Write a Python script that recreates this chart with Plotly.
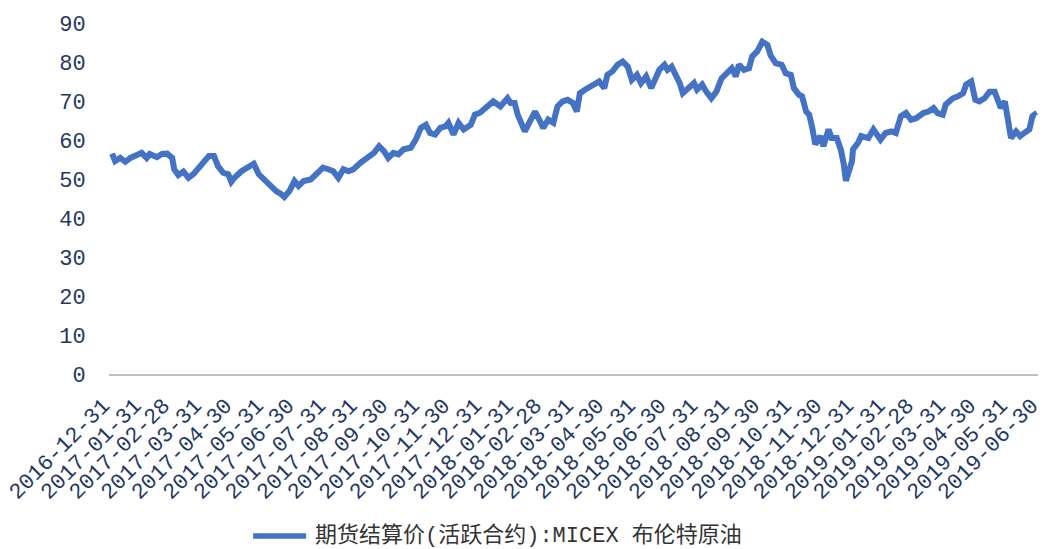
import plotly.graph_objects as go

# Brent crude (MICEX active contract) settlement prices
dates = [
    "2017-01-03", "2017-01-06", "2017-01-11", "2017-01-16", "2017-01-21", "2017-01-25",
    "2017-02-01", "2017-02-06", "2017-02-09", "2017-02-16", "2017-02-21", "2017-02-26",
    "2017-03-03", "2017-03-05", "2017-03-09", "2017-03-14", "2017-03-19", "2017-03-24", "2017-03-29",
    "2017-04-03", "2017-04-08", "2017-04-13", "2017-04-17", "2017-04-22", "2017-04-27", "2017-04-30",
    "2017-05-03", "2017-05-10", "2017-05-17", "2017-05-22", "2017-05-27",
    "2017-06-01", "2017-06-08", "2017-06-13", "2017-06-18", "2017-06-21", "2017-06-26",
    "2017-07-01", "2017-07-05", "2017-07-10", "2017-07-17", "2017-07-24", "2017-07-29",
    "2017-08-03", "2017-08-08", "2017-08-13", "2017-08-18", "2017-08-23", "2017-08-28",
    "2017-09-04", "2017-09-11", "2017-09-17", "2017-09-22", "2017-09-27",
    "2017-10-01", "2017-10-06", "2017-10-11", "2017-10-16", "2017-10-23", "2017-10-28",
    "2017-11-02", "2017-11-07", "2017-11-11", "2017-11-16", "2017-11-21", "2017-11-26", "2017-11-29",
    "2017-12-04", "2017-12-09", "2017-12-14", "2017-12-21", "2017-12-25", "2017-12-30",
    "2018-01-04", "2018-01-09", "2018-01-12", "2018-01-19", "2018-01-26", "2018-01-29",
    "2018-02-02", "2018-02-05", "2018-02-09", "2018-02-12", "2018-02-17", "2018-02-22", "2018-02-27",
    "2018-03-02", "2018-03-07", "2018-03-12", "2018-03-16", "2018-03-21", "2018-03-26", "2018-03-31",
    "2018-04-04", "2018-04-07", "2018-04-12", "2018-04-17", "2018-04-22", "2018-04-26",
    "2018-05-01", "2018-05-04", "2018-05-09", "2018-05-14", "2018-05-19", "2018-05-24", "2018-05-28",
    "2018-06-02", "2018-06-06", "2018-06-11", "2018-06-16", "2018-06-19", "2018-06-24", "2018-06-29",
    "2018-07-02", "2018-07-06", "2018-07-11", "2018-07-14", "2018-07-17", "2018-07-21", "2018-07-28", "2018-07-31",
    "2018-08-05", "2018-08-09", "2018-08-14", "2018-08-19", "2018-08-24", "2018-08-29",
    "2018-09-03", "2018-09-07", "2018-09-10", "2018-09-15", "2018-09-20", "2018-09-23", "2018-09-28",
    "2018-10-03", "2018-10-08", "2018-10-11", "2018-10-16", "2018-10-22", "2018-10-26", "2018-10-31",
    "2018-11-03", "2018-11-08", "2018-11-11", "2018-11-15", "2018-11-18", "2018-11-21", "2018-11-24", "2018-11-29",
    "2018-12-02", "2018-12-07", "2018-12-10", "2018-12-15", "2018-12-19", "2018-12-22", "2018-12-24",
    "2018-12-27", "2018-12-30", "2018-12-31",
    "2019-01-05", "2019-01-08", "2019-01-15", "2019-01-20", "2019-01-27",
    "2019-02-01", "2019-02-07", "2019-02-11", "2019-02-16", "2019-02-21", "2019-02-26",
    "2019-03-03", "2019-03-10", "2019-03-15", "2019-03-20", "2019-03-24", "2019-03-29",
    "2019-04-01", "2019-04-08", "2019-04-13", "2019-04-18", "2019-04-21", "2019-04-26", "2019-04-30",
    "2019-05-04", "2019-05-09", "2019-05-14", "2019-05-19", "2019-05-22", "2019-05-25", "2019-05-29",
    "2019-06-01", "2019-06-04", "2019-06-09", "2019-06-13", "2019-06-17", "2019-06-22", "2019-06-25",
    "2019-06-27", "2019-06-28",
]

prices = [
    56.5, 54.6, 55.4, 54.4, 55.4, 55.9,
    56.7, 55.4, 56.4, 55.6, 56.4, 56.5,
    55.4, 52.5, 51.0, 51.9, 50.3, 51.3, 52.9,
    54.6, 55.9, 55.9, 53.3, 51.6, 51.2, 49.3,
    50.3, 52.0, 53.3, 53.9, 51.2,
    49.9, 48.6, 46.9, 46.1, 45.4, 46.9,
    49.5, 48.2, 49.5, 49.9, 51.6, 52.9,
    52.5, 52.0, 50.3, 52.5, 52.0, 52.5,
    54.2, 55.4, 56.7, 58.4, 57.1,
    55.4, 56.7, 56.3, 57.6, 58.0, 60.1,
    63.1, 63.9, 61.8, 61.4, 63.1, 63.5, 64.4,
    61.4, 64.4, 62.7, 63.9, 66.5, 67.0,
    68.2, 69.1, 69.9, 68.6, 70.7, 69.5,
    69.5, 66.5, 63.9, 62.2, 64.8, 67.3, 64.8,
    63.1, 65.2, 64.4, 68.6, 69.9, 70.3, 69.5,
    67.3, 72.0, 72.9, 73.7, 74.6, 75.0,
    73.3, 76.7, 77.6, 79.3, 80.1, 78.8, 75.4,
    76.7, 74.6, 76.3, 73.3, 75.0, 78.0, 79.3,
    78.0, 78.8, 76.5, 74.6, 72.0, 72.9, 74.6, 72.9,
    74.2, 72.4, 70.7, 72.4, 75.8, 77.1,
    78.4, 76.3, 79.3, 78.0, 78.4, 81.4, 82.7,
    85.2, 84.4, 81.8, 79.7, 79.3, 77.1, 76.7,
    73.3, 71.6, 71.2, 67.3, 66.5, 63.1, 58.9, 61.0,
    58.4, 62.7, 60.5, 60.5, 57.6, 53.7, 49.5,
    52.0, 54.6, 57.6,
    59.3, 61.0, 60.5, 62.7, 60.1,
    61.8, 62.2, 61.8, 66.1, 66.9, 65.2,
    65.6, 66.9, 67.3, 68.2, 66.9, 66.5,
    69.1, 70.7, 71.2, 72.0, 74.2, 75.0, 70.3,
    69.9, 70.7, 72.4, 72.4, 69.9, 68.2, 69.9,
    65.6, 60.5, 62.2, 61.0, 61.8, 62.7, 66.1,
    66.5, 66.1,
]

# Month-end tick positions / labels
tick_dates = [
    "2016-12-31", "2017-01-31", "2017-02-28", "2017-03-31", "2017-04-30", "2017-05-31",
    "2017-06-30", "2017-07-31", "2017-08-31", "2017-09-30", "2017-10-31", "2017-11-30",
    "2017-12-31", "2018-01-31", "2018-02-28", "2018-03-31", "2018-04-30", "2018-05-31",
    "2018-06-30", "2018-07-31", "2018-08-31", "2018-09-30", "2018-10-31", "2018-11-30",
    "2018-12-31", "2019-01-31", "2019-02-28", "2019-03-31", "2019-04-30", "2019-05-31",
    "2019-06-30",
]

y_ticks = [0, 10, 20, 30, 40, 50, 60, 70, 80, 90]

series_name = "期货结算价(活跃合约):MICEX 布伦特原油"

LINE_COLOR = "#4472C4"
TICK_COLOR = "#1F3864"
TICK_FONT = dict(family="Liberation Mono", size=22, color=TICK_COLOR)

fig = go.Figure()
fig.add_trace(go.Scatter(
    x=dates, y=prices, mode="lines", name=series_name,
    line=dict(color=LINE_COLOR, width=6),
    showlegend=False,
))

fig.update_layout(
    width=1049, height=549,
    margin=dict(l=109, r=11, t=23, b=175),
    paper_bgcolor="white", plot_bgcolor="white",
    showlegend=False,
    xaxis=dict(
        type="date",
        range=["2016-12-31", "2019-06-30 12:00"],
        automargin=False,
        tickmode="array", tickvals=tick_dates, ticktext=tick_dates,
        tickangle=-45, tickfont=TICK_FONT, ticklabeloverflow="allow",
        ticklabelshift=-6,
        showgrid=False, zeroline=False,
        showline=True, linecolor="#BFBFBF", linewidth=1.5,
        ticks="outside", ticklen=8, tickcolor="rgba(0,0,0,0)",
    ),
    yaxis=dict(
        range=[0, 90],
        automargin=False,
        tickmode="array", tickvals=y_ticks, ticktext=[str(v) for v in y_ticks],
        tickfont=TICK_FONT,
        showgrid=False, zeroline=False, showline=False,
        ticks="outside", ticklen=18, tickcolor="rgba(0,0,0,0)",
    ),
)

# Legend drawn below the axis labels
fig.add_shape(
    type="line", xref="paper", yref="paper",
    x0=0.1551, x1=0.2122, y0=-0.4615, y1=-0.4615,
    line=dict(color=LINE_COLOR, width=5.5),
)
fig.add_annotation(
    xref="paper", yref="paper", x=0.2197, y=-0.4615,
    xanchor="left", yanchor="middle", showarrow=False,
    text=series_name,
    font=dict(family="Liberation Mono, Noto Sans CJK SC", size=22, color="#333333"),
)

fig.write_html("out.html")
